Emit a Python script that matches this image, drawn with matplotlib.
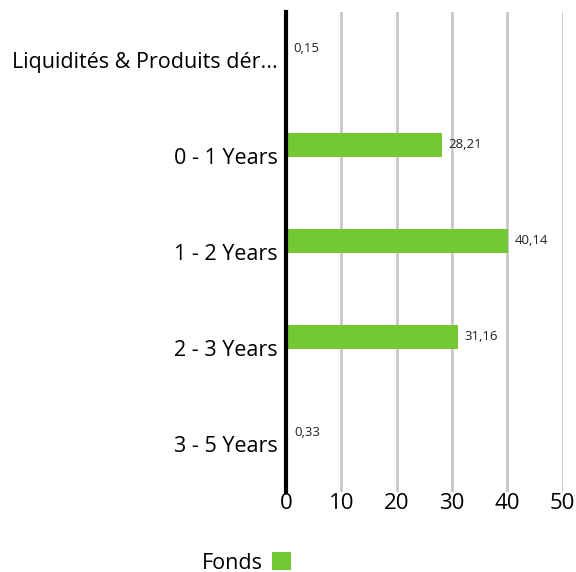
import matplotlib.pyplot as plt
from matplotlib.patches import Patch

plt.rcParams['font.family'] = ['Open Sans', 'DejaVu Sans']

categories = ['Liquidités & Produits dér...', '0 - 1 Years', '1 - 2 Years',
              '2 - 3 Years', '3 - 5 Years']
fonds = [0.15, 28.21, 40.14, 31.16, 0.33]
value_labels = ['0,15', '28,21', '40,14', '31,16', '0,33']
xticks = [0, 10, 20, 30, 40, 50]

green = '#73c934'

fig = plt.figure(figsize=(5.76, 5.72), dpi=100)
ax = fig.add_axes([0.4965, 0.14, 0.4805, 0.839])

pos = list(range(len(categories)))
# single series sits a little above the category centre
off = -0.115
bar_pos = [p + off for p in pos]
ax.barh(bar_pos, fonds, height=0.25, color=green, zorder=2)
for y, v, lab in zip(bar_pos, fonds, value_labels):
    ax.text(v + 1.1, y, lab, va='center', ha='left', fontsize=9.5,
            color='#222222', zorder=3)

ax.set_xlim(0, 50)
ax.set_ylim(len(categories) - 0.5, -0.5)
ax.set_xticks(xticks)
ax.set_xticklabels([str(t) for t in xticks], fontsize=16)
ax.set_yticks(pos)
ax.set_yticklabels(categories, fontsize=15.5)
ax.tick_params(axis='both', length=0, pad=6)
ax.tick_params(axis='x', pad=1)

for t in xticks[1:]:
    ax.axvline(t, color='#c8c8c8', linewidth=2, zorder=1)

for s in ['top', 'right', 'bottom']:
    ax.spines[s].set_visible(False)
ax.spines['left'].set_linewidth(3)
ax.spines['left'].set_color('black')
ax.spines['left'].set_zorder(4)

handle = Patch(facecolor=green, edgecolor='none')
fig.legend([handle], ['Fonds'], loc='center', bbox_to_anchor=(0.428, 0.016),
           frameon=False, fontsize=15.5, markerfirst=False,
           handlelength=0.9, handleheight=0.9, handletextpad=0.4)

fig.savefig('out.png', dpi=100)
